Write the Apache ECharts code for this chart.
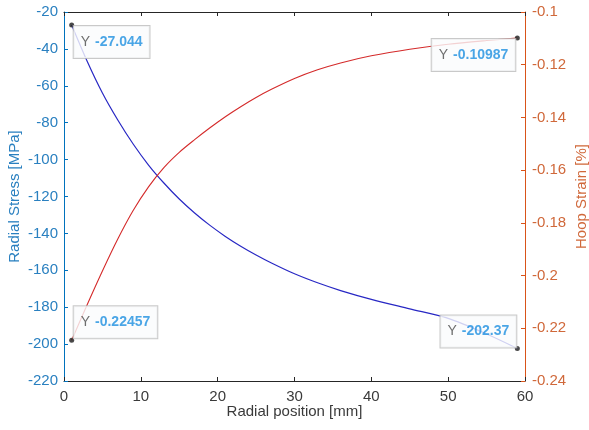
<!DOCTYPE html>
<html>
<head>
<meta charset="utf-8">
<title>Radial stress and hoop strain</title>
<script src="https://cdn.jsdelivr.net/npm/echarts@6/dist/echarts.min.js"></script>
<style>
  html, body { margin: 0; padding: 0; background: #ffffff; }
  #chart { width: 589px; height: 430px; }
</style>
</head>
<body>
<div id="chart"></div>
<script>
// Radial position [mm]
const radialPos = [1, 3, 5, 7, 9, 11, 13, 15, 17, 19, 21, 23, 25, 27, 30, 33, 36, 40, 45, 50, 55, 59];
// Radial stress [MPa]
const radialStress = [-27.044, -46.56, -63.90, -78.54, -91.54, -102.93, -112.68, -121.36, -128.94, -135.66,
  -141.63, -146.94, -151.71, -156.04, -161.90, -166.78, -171.00, -175.77, -180.92, -186.07, -194.53, -202.37];
// Hoop strain [%]
const hoopStrain = [-0.22457, -0.21117, -0.19827, -0.18613, -0.17533, -0.16633, -0.15903, -0.15323, -0.14843, -0.14393,
  -0.13973, -0.13593, -0.13243, -0.12933, -0.12523, -0.12193, -0.11933, -0.11663, -0.11413, -0.11223, -0.11083, -0.10987];

// Axis ranges and ticks
const xTicks = [0, 10, 20, 30, 40, 50, 60];
const stressTicks = [-220, -200, -180, -160, -140, -120, -100, -80, -60, -40, -20];
const strainTicks = [-0.24, -0.22, -0.2, -0.18, -0.16, -0.14, -0.12, -0.1];

const FONT = '"Liberation Sans", Arial, Helvetica, sans-serif';
const FS = 15;
const BLUE_AX = '#0072BD';
const ORANGE_AX = '#D95319';
const GRAY = '#262626';

function pairs(xs, ys) { return xs.map((x, i) => [x, ys[i]]); }

// Data tips at the two ends of each curve
const tipRich = {
  y: { color: '#4a4a4a', fontSize: 14, fontFamily: FONT, padding: [0, 5, 0, 0] },
  v: { color: '#1d8fe0', fontSize: 14, fontFamily: FONT, fontWeight: 'bold' }
};
function tipLabel(pos, align, vAlign) {
  return {
    show: true,
    position: pos,
    align: align,
    verticalAlign: vAlign,
    formatter: p => '{y|Y}{v|' + String(p.value[1]) + '}',
    rich: tipRich,
    backgroundColor: '#fafbfc',
    borderColor: '#bcbcbc',
    borderWidth: 1,
    padding: [8, 7, 8, 7],
    lineHeight: 16
  };
}
const last = radialPos.length - 1;
const stressTips = [
  { value: [radialPos[0], radialStress[0]], label: tipLabel([4.5, 3.5], 'left', 'top') },
  { value: [radialPos[last], radialStress[last]], label: tipLabel([1.5, 1.5], 'right', 'bottom') }
];
const strainTips = [
  { value: [radialPos[0], hoopStrain[0]], label: tipLabel([4.5, 0.5], 'left', 'bottom') },
  { value: [radialPos[last], hoopStrain[last]], label: tipLabel([0.5, 3.5], 'right', 'top') }
];

const chart = echarts.init(document.getElementById('chart'), null, { renderer: 'canvas' });

const commonX = {
  type: 'value',
  min: xTicks[0],
  max: xTicks[xTicks.length - 1],
  interval: xTicks[1] - xTicks[0],
  splitLine: { show: false },
  axisLine: { show: true, onZero: false, lineStyle: { color: GRAY, width: 1 } },
  axisTick: { show: true, inside: true, length: 4, lineStyle: { color: GRAY } }
};

chart.setOption({
  animation: false,
  backgroundColor: '#ffffff',
  textStyle: { fontFamily: FONT },
  grid: { left: 64, right: 64, top: 12, bottom: 49, containLabel: false, outerBoundsMode: 'none' },
  xAxis: [
    Object.assign({}, commonX, {
      position: 'bottom',
      name: 'Radial position [mm]',
      nameLocation: 'middle',
      nameGap: 23,
      nameMoveOverlap: false,
      nameTextStyle: { color: '#3a3a3a', fontSize: FS, fontFamily: FONT },
      axisLabel: { color: '#3a3a3a', fontSize: FS, fontFamily: FONT, margin: 8 }
    }),
    Object.assign({}, commonX, {
      position: 'top',
      axisLabel: { show: false }
    })
  ],
  yAxis: [
    {
      type: 'value',
      position: 'left',
      min: stressTicks[0],
      max: stressTicks[stressTicks.length - 1],
      interval: stressTicks[1] - stressTicks[0],
      splitLine: { show: false },
      name: 'Radial Stress [MPa]',
      nameLocation: 'middle',
      nameGap: 42,
      nameMoveOverlap: false,
      nameTextStyle: { color: '#2a80c0', fontSize: FS, fontFamily: FONT },
      axisLine: { show: true, onZero: false, lineStyle: { color: BLUE_AX } },
      axisTick: { show: true, inside: true, length: 4, lineStyle: { color: BLUE_AX } },
      axisLabel: { color: '#2a80c0', fontSize: FS, fontFamily: FONT, margin: 6 }
    },
    {
      type: 'value',
      position: 'right',
      min: strainTicks[0],
      max: strainTicks[strainTicks.length - 1],
      interval: 0.02,
      splitLine: { show: false },
      name: 'Hoop Strain [%]',
      nameLocation: 'middle',
      nameRotate: 90,
      nameGap: 49,
      nameMoveOverlap: false,
      nameTextStyle: { color: '#d0683a', fontSize: FS, fontFamily: FONT },
      axisLine: { show: true, onZero: false, lineStyle: { color: ORANGE_AX } },
      axisTick: { show: true, inside: true, length: 4, lineStyle: { color: ORANGE_AX } },
      axisLabel: {
        color: '#d0683a', fontSize: FS, fontFamily: FONT, margin: 7,
        formatter: v => String(parseFloat(v.toFixed(2)))
      }
    }
  ],
  series: [
    {
      name: 'Radial Stress',
      type: 'line',
      xAxisIndex: 0,
      yAxisIndex: 0,
      data: pairs(radialPos, radialStress),
      showSymbol: false,
      smooth: 0.3,
      lineStyle: { color: '#2828c4', width: 1.2 },
      z: 2
    },
    {
      name: 'Hoop Strain',
      type: 'line',
      xAxisIndex: 0,
      yAxisIndex: 1,
      data: pairs(radialPos, hoopStrain),
      showSymbol: false,
      smooth: 0.3,
      lineStyle: { color: '#d42a2a', width: 1.1 },
      z: 2
    },
    {
      name: 'Stress tips',
      type: 'scatter',
      xAxisIndex: 0,
      yAxisIndex: 0,
      data: stressTips,
      symbol: 'circle',
      symbolSize: 5,
      itemStyle: { color: '#1a1a1a' },
      z: 10
    },
    {
      name: 'Strain tips',
      type: 'scatter',
      xAxisIndex: 0,
      yAxisIndex: 1,
      data: strainTips,
      symbol: 'circle',
      symbolSize: 5,
      itemStyle: { color: '#1a1a1a' },
      z: 10
    }
  ]
});
</script>
</body>
</html>
